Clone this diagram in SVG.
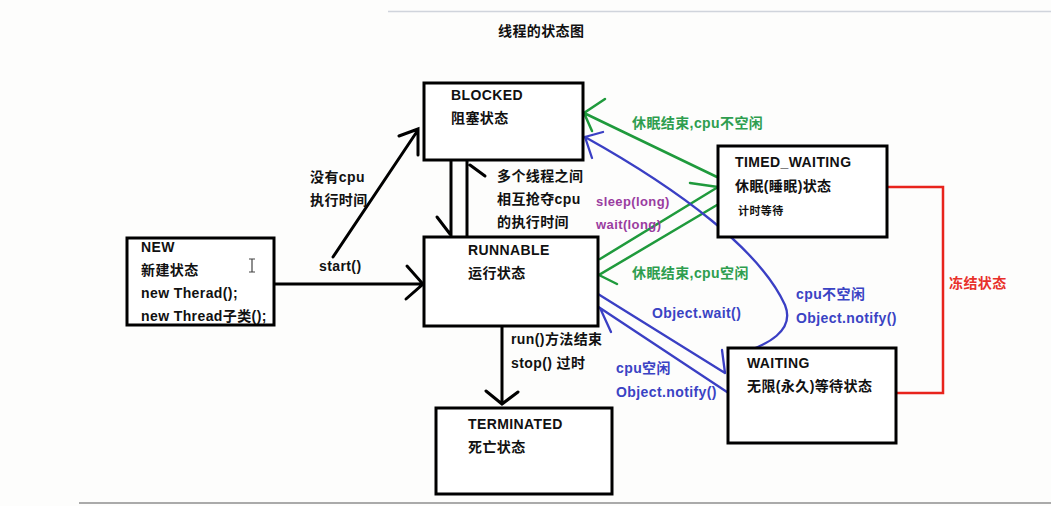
<svg xmlns="http://www.w3.org/2000/svg" width="1051" height="506" viewBox="0 0 1051 506">
<style>
text{font-family:"Liberation Sans","Noto Sans CJK SC",sans-serif;font-weight:bold;font-size:14px;fill:#111;letter-spacing:0.4px}
.box{fill:#fff;stroke:#000;stroke-width:3}
.k{fill:none;stroke:#000;stroke-width:3;stroke-linecap:round}
.g{fill:none;stroke:#1f9a3c;stroke-width:2.5;stroke-linecap:round}
.b{fill:none;stroke:#3a3fc4;stroke-width:2.3;stroke-linecap:round}
.r{fill:none;stroke:#e8231c;stroke-width:2.5}
text.gt{fill:#2e9e4f}
text.bt{fill:#3a43c4}
text.pt{fill:#9a3ca0;font-size:13px}
text.rt{fill:#e8302a}
text.sm{font-size:11px}
</style>
<rect width="1051" height="506" fill="#fdfdfc"/>
<line x1="388" y1="11.5" x2="1051" y2="11.5" stroke="#d0d4dc" stroke-width="1.5"/>
<line x1="79" y1="503" x2="1051" y2="503" stroke="#aaaaaa" stroke-width="2"/>
<text x="498" y="36">线程的状态图</text>

<g id="connectors">
  <!-- NEW -> RUNNABLE -->
  <path class="k" d="M274 284 L423 284 M407 266 L423 284 L406 299"/>
  <!-- NEW -> BLOCKED -->
  <path class="k" d="M333 257 L418 130 M399 136 L418 129 L418 155"/>
  <!-- BLOCKED <-> RUNNABLE -->
  <path class="k" d="M451 161 L451 236 M437 217 L450 234"/>
  <path class="k" d="M467 161 L467 237 M470 165 L485 176"/>
  <!-- RUNNABLE -> TERMINATED -->
  <path class="k" d="M502 326 L502 404 M486 391 L502 404 L518 392"/>
  <!-- green -->
  <path class="g" d="M717 177 L584 113 M605 99 L584 113 L592 131"/>
  <path class="g" d="M600 259 L718 187 M690 183 L718 187"/>
  <path class="g" d="M717 205 L599 275 L617 284"/>
  <!-- blue -->
  <path class="b" d="M733 356 C770 345 795 330 785 305 C760 250 680 190 585 137 M603 132 L585 137 L592 158"/>
  <path class="b" d="M598 294 L725 373 M722 350 L725 373 M728 352 L730 372"/>
  <path class="b" d="M727 392 L600 308 L611 332"/>
  <!-- red -->
  <path class="r" d="M887 187 L943 187 L943 393 L897 393"/>
</g>

<g id="new">
  <rect class="box" x="127" y="238" width="147" height="87"/>
  <text x="141" y="252">NEW</text>
  <text x="141" y="275">新建状态</text>
  <text x="141" y="298">new Therad();</text>
  <text x="141" y="321">new Thread子类();</text>
  <path d="M249 259 L255 259 M252 259 L252 272 M249 272 L255 272" stroke="#444" stroke-width="1.2" fill="none"/>
</g>
<g id="blocked">
  <rect class="box" x="424" y="83" width="159" height="77"/>
  <text x="451" y="100">BLOCKED</text>
  <text x="451" y="123">阻塞状态</text>
</g>
<g id="runnable">
  <rect class="box" x="424" y="237" width="174" height="89"/>
  <text x="468" y="255">RUNNABLE</text>
  <text x="468" y="278">运行状态</text>
</g>
<g id="timed_waiting">
  <rect class="box" x="718" y="146" width="169" height="91"/>
  <text x="735" y="167">TIMED_WAITING</text>
  <text x="735" y="191">休眠(睡眠)状态</text>
  <text class="sm" x="738" y="215">计时等待</text>
</g>
<g id="waiting">
  <rect class="box" x="728" y="348" width="168" height="95"/>
  <text x="747" y="368">WAITING</text>
  <text x="747" y="391">无限(永久)等待状态</text>
</g>
<g id="terminated">
  <rect class="box" x="436" y="408" width="176" height="86"/>
  <text x="468" y="429">TERMINATED</text>
  <text x="468" y="452">死亡状态</text>
</g>

<g id="labels">
  <text x="319" y="271">start()</text>
  <text x="310" y="182">没有cpu</text>
  <text x="310" y="205">执行时间</text>
  <text x="497" y="181">多个线程之间</text>
  <text x="497" y="204">相互抢夺cpu</text>
  <text x="497" y="227">的执行时间</text>
  <text x="511" y="344">run()方法结束</text>
  <text x="511" y="368">stop() 过时</text>
  <text class="gt" x="632" y="128">休眠结束,cpu不空闲</text>
  <text class="gt" x="632" y="278">休眠结束,cpu空闲</text>
  <text class="pt" x="596" y="206">sleep(long)</text>
  <text class="pt" x="596" y="229">wait(long)</text>
  <text class="bt" x="796" y="299">cpu不空闲</text>
  <text class="bt" x="796" y="323">Object.notify()</text>
  <text class="bt" x="652" y="318">Object.wait()</text>
  <text class="bt" x="616" y="373">cpu空闲</text>
  <text class="bt" x="616" y="397">Object.notify()</text>
  <text class="rt" x="949" y="288">冻结状态</text>
</g>
</svg>
